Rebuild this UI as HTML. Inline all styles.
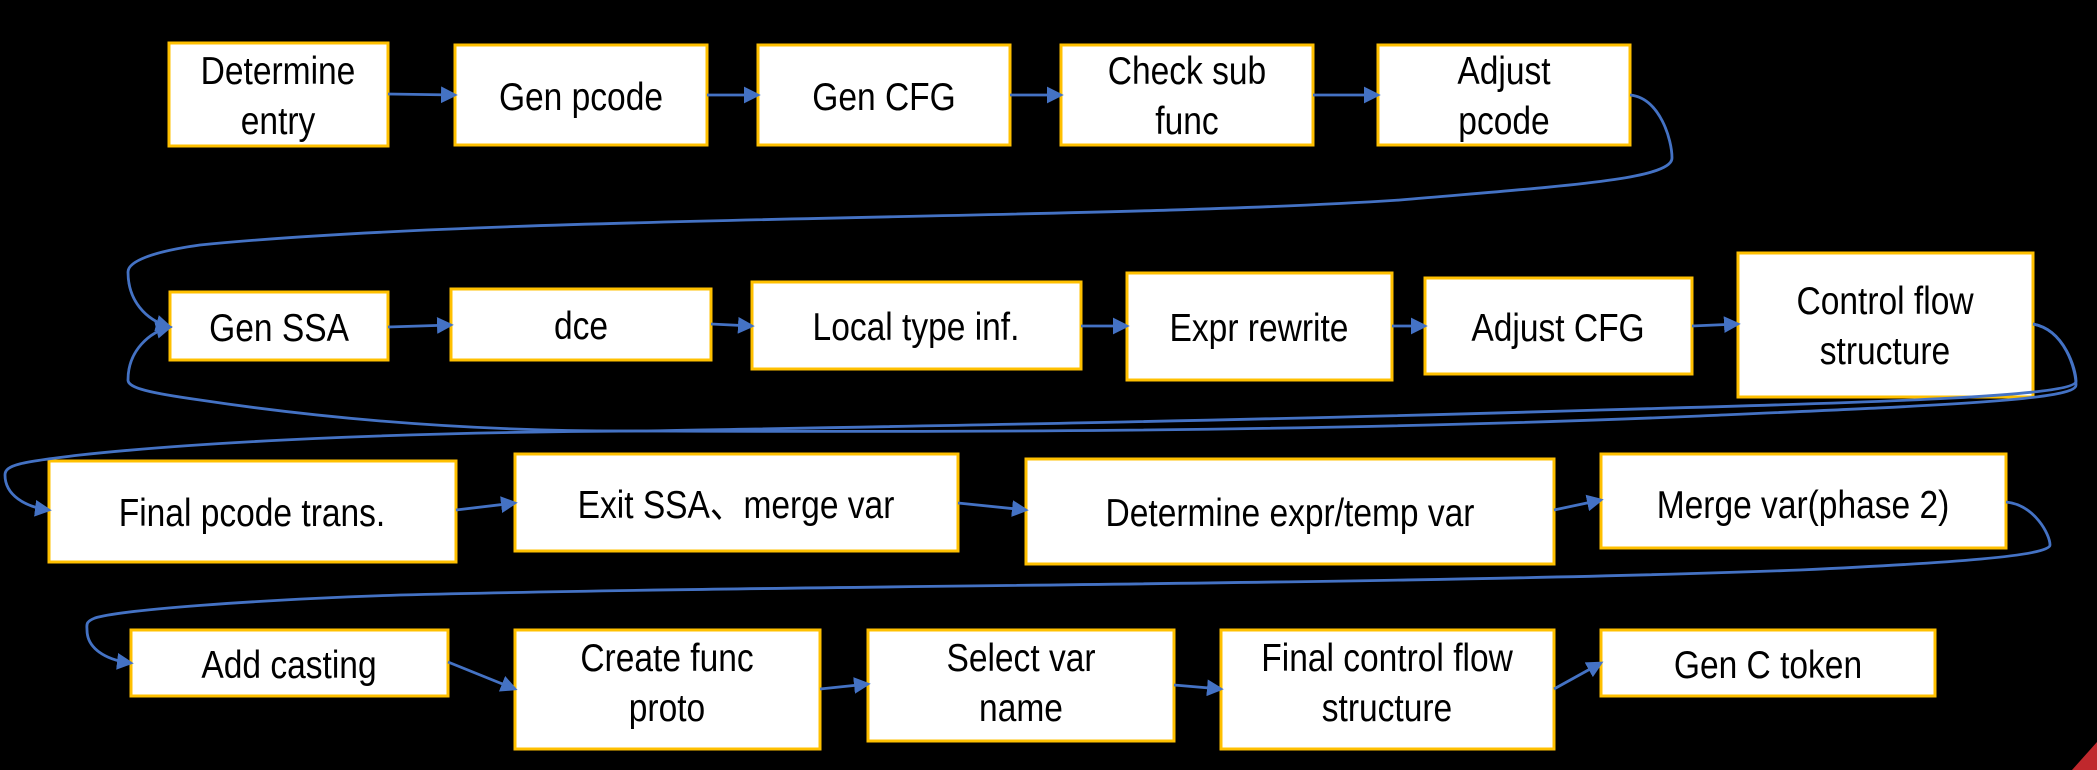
<!DOCTYPE html>
<html><head><meta charset="utf-8"><style>
html,body{margin:0;padding:0;background:#000;}
svg{display:block}
text{font-family:"Liberation Sans","Noto Sans CJK SC",sans-serif;font-size:39px;fill:#000;text-anchor:middle;transform-box:fill-box;transform-origin:center;transform:scaleX(0.86)}
.b{fill:#fff;stroke:#FFC000;stroke-width:3}
.l{fill:none;stroke:#4472C4;stroke-width:2.8}
</style></head><body>
<svg width="2097" height="770" viewBox="0 0 2097 770" xmlns="http://www.w3.org/2000/svg">
<defs><marker id="a" markerWidth="6" markerHeight="6" refX="5" refY="3" orient="auto" markerUnits="strokeWidth"><path d="M0,0 L6,3 L0,6 z" fill="#4472C4"/></marker></defs>
<rect width="2097" height="770" fill="#000"/>
<path d="M2097,742 L2097,770 L2072,770 z" fill="#C0282D"/>

<rect class="b" x="169" y="43" width="219" height="103"/>
<text x="278" y="84">Determine</text><text x="278" y="134">entry</text>
<rect class="b" x="455" y="45" width="252" height="100"/>
<text x="581" y="110">Gen pcode</text>
<rect class="b" x="758" y="45" width="252" height="100"/>
<text x="884" y="110">Gen CFG</text>
<rect class="b" x="1061" y="45" width="252" height="100"/>
<text x="1187" y="84">Check sub</text><text x="1187" y="134">func</text>
<rect class="b" x="1378" y="45" width="252" height="100"/>
<text x="1504" y="84">Adjust</text><text x="1504" y="134">pcode</text>

<rect class="b" x="170" y="292" width="218" height="68"/>
<text x="279" y="341">Gen SSA</text>
<rect class="b" x="451" y="289" width="260" height="71"/>
<text x="581" y="339">dce</text>
<rect class="b" x="752" y="282" width="329" height="87"/>
<text x="916" y="340">Local type inf.</text>
<rect class="b" x="1127" y="273" width="265" height="107"/>
<text x="1259" y="341">Expr rewrite</text>
<rect class="b" x="1425" y="278" width="267" height="96"/>
<text x="1558" y="341">Adjust CFG</text>
<rect class="b" x="1738" y="253" width="295" height="144"/>
<text x="1885" y="314">Control flow</text><text x="1885" y="364">structure</text>

<rect class="b" x="49" y="461" width="407" height="101"/>
<text x="252" y="526">Final pcode trans.</text>
<rect class="b" x="515" y="454" width="443" height="97"/>
<text x="736" y="518">Exit SSA、merge var</text>
<rect class="b" x="1026" y="459" width="528" height="105"/>
<text x="1290" y="526">Determine expr/temp var</text>
<rect class="b" x="1601" y="454" width="405" height="94"/>
<text x="1803" y="518">Merge var(phase 2)</text>

<rect class="b" x="131" y="630" width="317" height="66"/>
<text x="289" y="678">Add casting</text>
<rect class="b" x="515" y="630" width="305" height="119"/>
<text x="667" y="671">Create func</text><text x="667" y="721">proto</text>
<rect class="b" x="868" y="630" width="306" height="111"/>
<text x="1021" y="671">Select var</text><text x="1021" y="721">name</text>
<rect class="b" x="1221" y="630" width="333" height="119"/>
<text x="1387" y="671">Final control flow</text><text x="1387" y="721">structure</text>
<rect class="b" x="1601" y="630" width="334" height="66"/>
<text x="1768" y="678">Gen C token</text>

<g class="l" marker-end="url(#a)">
<path class="l" d="M388,94 L455,95"/>
<path class="l" d="M707,95 L758,95"/>
<path class="l" d="M1010,95 L1061,95"/>
<path class="l" d="M1313,95 L1378,95"/>
<path class="l" d="M388,327 L451,325"/>
<path class="l" d="M711,324 L752,326"/>
<path class="l" d="M1081,326 L1127,326"/>
<path class="l" d="M1392,326 L1425,326"/>
<path class="l" d="M1692,326 L1738,324"/>
<path class="l" d="M456,510 L515,503"/>
<path class="l" d="M958,503 L1026,510"/>
<path class="l" d="M1554,510 L1601,500"/>
<path class="l" d="M448,662 L515,689"/>
<path class="l" d="M820,689 L868,684"/>
<path class="l" d="M1174,685 L1221,689"/>
<path class="l" d="M1554,689 L1601,663"/>
</g>

<path class="l" marker-end="url(#a)" d="M1630,95 C1660,98 1672,140 1672,158 C1672,180 1560,186 1400,200 C1100,220 500,215 200,245 C150,252 128,262 128,272 C128,300 145,320 170,327"/>
<path class="l" marker-end="url(#a)" d="M2033,324 C2065,330 2076,370 2076,381 C2076,396 1900,402 1600,410 C1200,422 800,428 643,431 C450,432 300,415 200,400 C150,393 128,388 128,380 C128,350 150,332 170,327"/>
<path class="l" marker-end="url(#a)" d="M2033,324 C2065,330 2076,370 2076,385 C2076,400 1950,405 1700,416 C1300,433 900,432 643,431 C400,432 200,442 80,455 C20,462 5,465 5,475 C5,495 25,507 49,510"/>
<path class="l" marker-end="url(#a)" d="M2006,502 C2035,505 2050,535 2050,545 C2050,556 1950,563 1800,570 C1400,585 800,585 400,595 C250,600 120,610 95,618 C85,622 87,625 87,630 C87,648 105,660 131,663"/>
</svg>
</body></html>
